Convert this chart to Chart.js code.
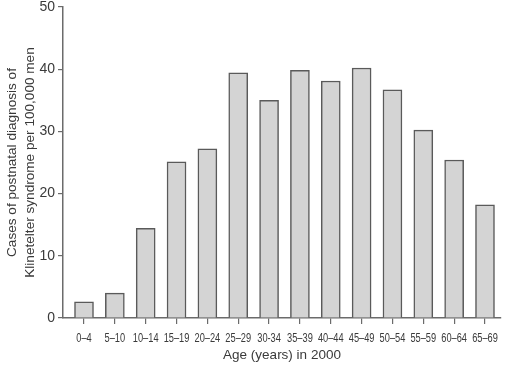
<!DOCTYPE html>
<html>
<head>
<meta charset="utf-8">
<script src="https://cdn.jsdelivr.net/npm/chart.js@4.4.1/dist/chart.umd.min.js"></script>
<style>
  body { margin: 0; background: #fff; }
  canvas { display: block; }
</style>
</head>
<body>
<canvas id="ksChart" width="505" height="371"></canvas>
<script>
// age groups and cases per 100,000 men
var ageGroups = ['0\u20134', '5\u201310', '10\u201314', '15\u201319', '20\u201324', '25\u201329', '30-34',
                 '35\u201339', '40\u201344', '45\u201349', '50\u201354', '55\u201359', '60\u201364', '65\u201369'];
var cases = [2.6, 4.0, 14.4, 25.1, 27.2, 39.4, 35.0, 39.8, 38.1, 40.2, 36.7, 30.2, 25.4, 18.2];
var yTicks = [0, 10, 20, 30, 40, 50];

var axisGrey = '#6b6b6b';
var textGrey = '#3a3a3a';

var points = cases.map(function (v, i) { return { x: i, y: v }; });

// the age labels are set in a condensed face; squeeze them horizontally
var narrowLabels = {
  id: 'narrowLabels',
  afterDraw: function (chart) {
    var c = chart.ctx;
    var xs = chart.scales.x;
    c.save();
    c.fillStyle = textGrey;
    c.font = '12.5px "Liberation Sans", Arial, sans-serif';
    c.textAlign = 'center';
    c.textBaseline = 'alphabetic';
    ageGroups.forEach(function (g, i) {
      c.save();
      c.translate(xs.getPixelForValue(i), xs.top + 24);
      c.scale(0.74, 1);
      c.fillText(g, 0, 0);
      c.restore();
    });
    c.restore();
  }
};

var ctx = document.getElementById('ksChart');
var ksChart = new Chart(ctx, {
  type: 'bar',
  data: {
    datasets: [{
      label: 'Cases',
      data: points,
      backgroundColor: '#d4d4d4',
      borderColor: '#5a5a5a',
      borderWidth: 1.5,
      borderSkipped: 'start',
      barThickness: 19
    }]
  },
  options: {
    responsive: false,
    animation: false,
    layout: { padding: { top: 0, right: 4, bottom: 0, left: 0 } },
    plugins: { legend: { display: false }, tooltip: { enabled: false } },
    scales: {
      x: {
        type: 'linear',
        offset: false,
        min: -0.681,
        max: 13.519,
        afterBuildTicks: function (scale) {
          scale.ticks = ageGroups.map(function (g, i) { return { value: i }; });
        },
        afterFit: function (scale) { scale.height = 53; },
        border: { color: axisGrey, width: 1.5 },
        grid: { offset: false, drawOnChartArea: false, drawTicks: true, tickLength: 6, color: axisGrey, lineWidth: 1.2 },
        ticks: { display: false },
        title: {
          display: true,
          text: 'Age (years) in 2000',
          color: textGrey,
          padding: { top: 0, bottom: 8 },
          font: { family: '"Liberation Sans", Arial, sans-serif', size: 13.5, lineHeight: 1.2 }
        }
      },
      y: {
        min: 0,
        max: 50,
        afterBuildTicks: function (scale) {
          scale.ticks = yTicks.map(function (t) { return { value: t }; });
        },
        afterFit: function (scale) { scale.width = 63; scale.paddingTop = 7; },
        border: { color: axisGrey, width: 1.5 },
        grid: { drawOnChartArea: false, drawTicks: true, tickLength: 5, color: axisGrey, lineWidth: 1.2 },
        ticks: {
          padding: 3,
          color: textGrey,
          font: { family: '"Liberation Sans", Arial, sans-serif', size: 14 }
        },
        title: {
          display: true,
          text: ['Cases of postnatal diagnosis of', 'Klinetelter syndrome per 100,000 men'],
          color: textGrey,
          padding: { top: 3, bottom: 0 },
          font: { family: '"Liberation Sans", Arial, sans-serif', size: 13.6, lineHeight: 1.32 }
        }
      }
    }
  },
  plugins: [narrowLabels]
});
</script>
</body>
</html>
